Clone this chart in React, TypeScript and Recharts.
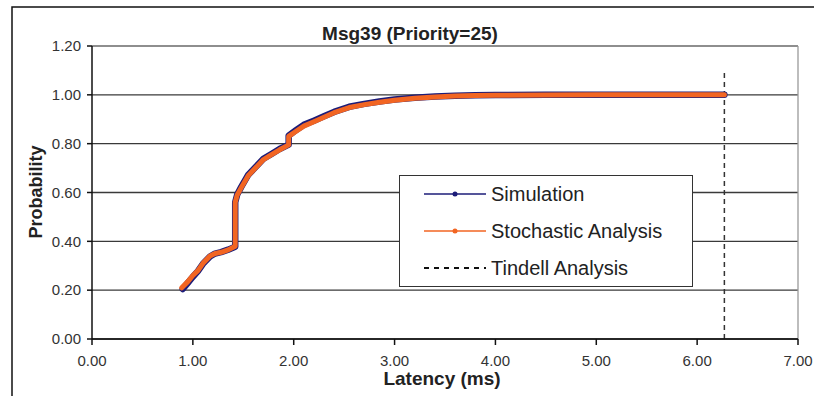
import React from 'react';
import { LineChart, Line, XAxis, YAxis, CartesianGrid, ReferenceLine, Customized } from 'recharts';

const latencyStoch = [0.89, 0.95, 1.0, 1.05, 1.1, 1.17, 1.22, 1.28, 1.35, 1.42, 1.42, 1.44, 1.48, 1.55, 1.62, 1.7, 1.78, 1.86, 1.95, 1.95, 2.02, 2.1, 2.2, 2.3, 2.4, 2.55, 2.7, 2.85, 3.0, 3.2, 3.4, 3.6, 3.8, 4.0, 4.5, 5.0, 5.5, 6.0, 6.27];
const probStoch = [0.21, 0.235, 0.26, 0.28, 0.31, 0.34, 0.35, 0.355, 0.365, 0.38, 0.56, 0.59, 0.62, 0.67, 0.7, 0.735, 0.755, 0.775, 0.795, 0.83, 0.85, 0.872, 0.89, 0.908, 0.927, 0.948, 0.96, 0.97, 0.978, 0.986, 0.991, 0.995, 0.997, 0.998, 0.999, 1.0, 1.0, 1.0, 1.0];

const latencySim = [0.9, 0.95, 1.0, 1.05, 1.1, 1.17, 1.22, 1.28, 1.35, 1.42, 1.42, 1.44, 1.48, 1.55, 1.62, 1.7, 1.78, 1.86, 1.95, 1.95, 2.02, 2.1, 2.2, 2.3, 2.4, 2.55, 2.7, 2.85, 3.0, 3.2, 3.4, 3.6, 3.8, 4.0, 4.5, 5.0, 5.5, 6.0, 6.27];
const probSim = [0.205, 0.23, 0.255, 0.278, 0.308, 0.338, 0.35, 0.356, 0.366, 0.378, 0.56, 0.592, 0.623, 0.673, 0.703, 0.738, 0.758, 0.778, 0.796, 0.833, 0.854, 0.877, 0.894, 0.912, 0.93, 0.951, 0.963, 0.973, 0.981, 0.988, 0.993, 0.996, 0.998, 0.999, 1.0, 1.0, 1.0, 1.0, 1.0];

const tindellLatency = [6.27, 6.27];
const tindellProb = [0, 1.09];

const xTicks = [0, 1, 2, 3, 4, 5, 6, 7];
const yTicks = [0, 0.2, 0.4, 0.6, 0.8, 1.0, 1.2];

const titleText = 'Msg39 (Priority=25)';
const xLabel = 'Latency (ms)';
const yLabel = 'Probability';
const seriesNames = ['Simulation', 'Stochastic Analysis', 'Tindell Analysis'];

const stochData = latencyStoch.map((x, i) => ({ x, y: probStoch[i] }));
const simData = latencySim.map((x, i) => ({ x, y: probSim[i] }));
const tindellData = tindellLatency.map((x, i) => ({ x, y: tindellProb[i] }));

const NAVY = '#1c1c78';
const ORANGE = '#f26522';
const FONT = '"Liberation Sans", Arial, sans-serif';

const LegendBox = () => (
  <div
    style={{
      position: 'absolute',
      left: 399,
      top: 175,
      width: 294,
      height: 112,
      border: '1.5px solid #333',
      background: '#fff',
      boxSizing: 'border-box',
      fontFamily: FONT,
      fontSize: 20,
      color: '#222',
    }}
  >
    {seriesNames.map((name, i) => (
      <div key={name} style={{ position: 'absolute', left: 24, top: 5 + i * 37, height: 26, display: 'flex', alignItems: 'center' }}>
        <svg width={64} height={10} style={{ marginRight: 3 }}>
          {i === 2 ? (
            <line x1={0} y1={5} x2={62} y2={5} stroke="#111" strokeWidth={2} strokeDasharray="5 5" />
          ) : (
            <>
              <line x1={0} y1={5} x2={62} y2={5} stroke={i === 0 ? NAVY : ORANGE} strokeWidth={1.5} />
              <circle cx={31} cy={5} r={2.5} fill={i === 0 ? NAVY : ORANGE} />
            </>
          )}
        </svg>
        <span style={{ whiteSpace: 'nowrap' }}>{name}</span>
      </div>
    ))}
  </div>
);

const Decorations = () => (
  <g>
    <path d="M12,396 L12,7 L814,7" fill="none" stroke="#111" strokeWidth={1.5} />
    <text x={410} y={40} textAnchor="middle" fontFamily={FONT} fontSize={19} fontWeight="bold" fill="#222">
      {titleText}
    </text>
  </g>
);

export default function App() {
  return (
    <div style={{ position: 'absolute', left: 0, top: 0, width: 814, height: 396, background: '#fff', overflow: 'hidden' }}>
      <LineChart
        width={814}
        height={396}
        margin={{ top: 46, right: 16, bottom: 27, left: 0 }}
        style={{ fontFamily: FONT, overflow: 'visible' }}
      >
        <CartesianGrid horizontal vertical={false} stroke="#3a3a3a" strokeWidth={1.3} />
        <XAxis
          dataKey="x"
          type="number"
          domain={[0, 7]}
          ticks={xTicks}
          allowDuplicatedCategory={false}
          tickFormatter={(v: number) => v.toFixed(2)}
          tick={{ fontSize: 15, fill: '#333', fontFamily: FONT }}
          tickSize={6}
          tickMargin={10}
          height={30}
          stroke="#111"
          strokeWidth={1.5}
          label={{
            content: () => (
              <text x={442} y={385} textAnchor="middle" fontFamily={FONT} fontSize={19} fontWeight="bold" fill="#222">
                {xLabel}
              </text>
            ),
          }}
        />
        <YAxis
          dataKey="y"
          type="number"
          domain={[0, 1.2]}
          ticks={yTicks}
          tickFormatter={(v: number) => v.toFixed(2)}
          tick={{ fontSize: 15, fill: '#333', fontFamily: FONT }}
          tickSize={5}
          tickMargin={6}
          width={92}
          stroke="#111"
          strokeWidth={1.5}
          label={{
            content: () => (
              <text x={42} y={192} textAnchor="middle" transform="rotate(-90 42 192)" fontFamily={FONT} fontSize={18} fontWeight="bold" fill="#222">
                {yLabel}
              </text>
            ),
          }}
        />
        <ReferenceLine y={1.2} stroke="#9a9a9a" strokeWidth={1.3} />
        <ReferenceLine x={7} stroke="#9a9a9a" strokeWidth={1.3} />
        <Line
          data={tindellData}
          dataKey="y"
          name={seriesNames[2]}
          stroke="#333"
          strokeWidth={1.5}
          strokeDasharray="5 4"
          dot={false}
          isAnimationActive={false}
        />
        <Line
          data={simData}
          dataKey="y"
          name={seriesNames[0]}
          stroke={NAVY}
          strokeWidth={6.5}
          strokeLinejoin="round"
          strokeLinecap="round"
          dot={false}
          isAnimationActive={false}
        />
        <Line
          data={stochData}
          dataKey="y"
          name={seriesNames[1]}
          stroke={ORANGE}
          strokeWidth={5}
          strokeLinejoin="round"
          strokeLinecap="round"
          dot={false}
          isAnimationActive={false}
        />
        <Customized component={Decorations} />
      </LineChart>
      <LegendBox />
    </div>
  );
}
